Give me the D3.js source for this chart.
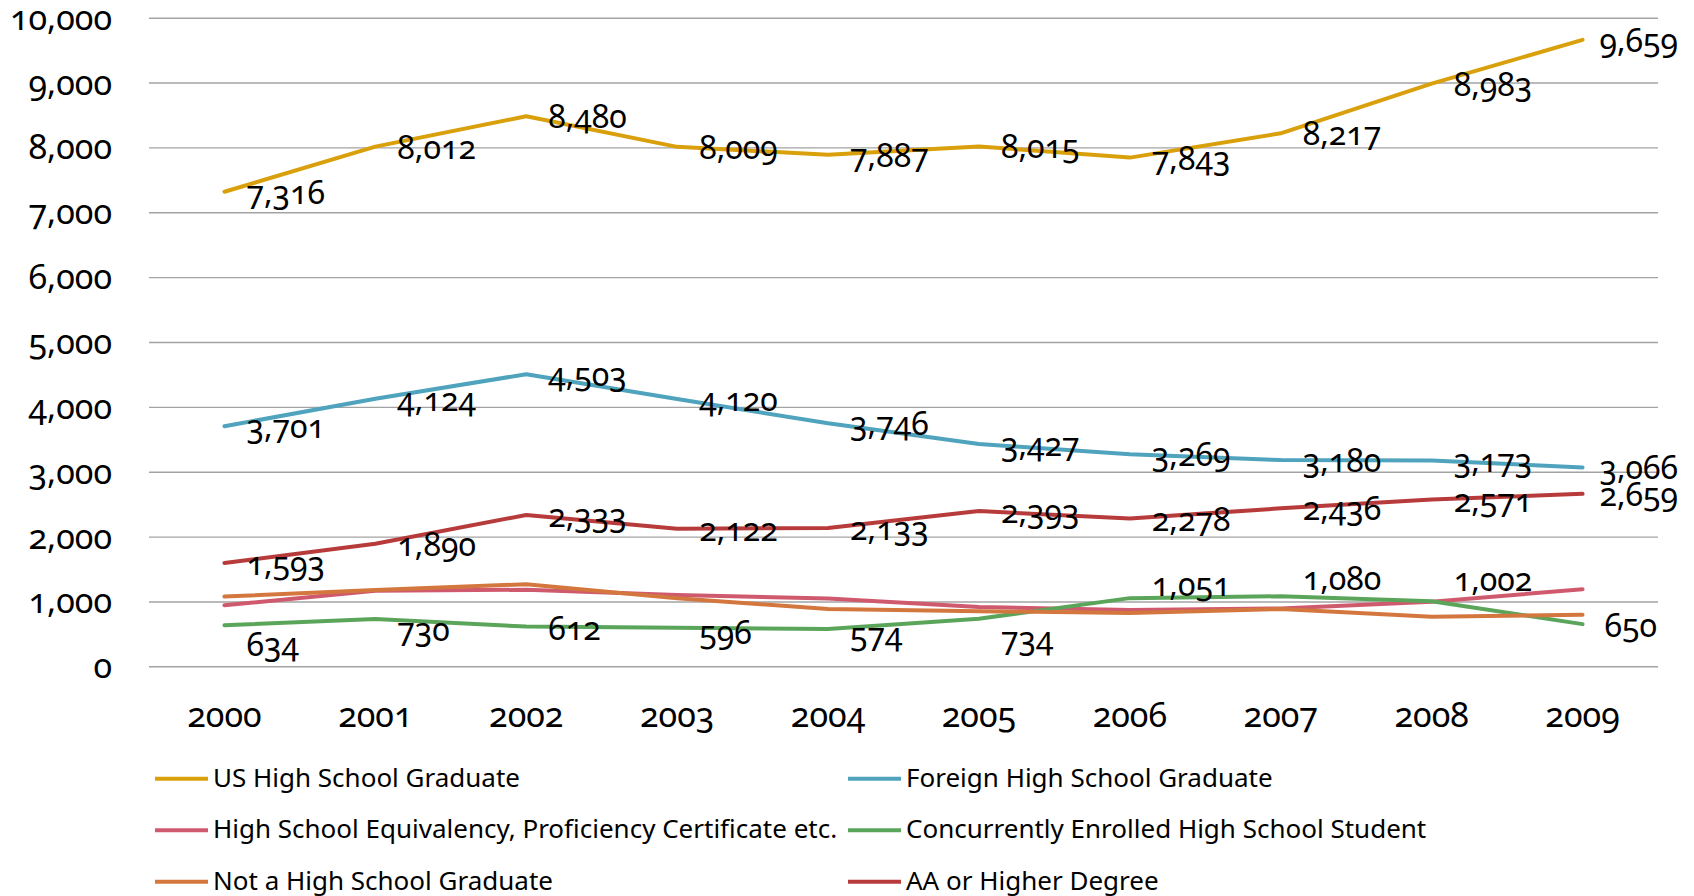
<!DOCTYPE html>
<html>
<head>
<meta charset="utf-8">
<script src="https://cdn.jsdelivr.net/npm/d3@7"></script>
<style>
  html, body { margin: 0; padding: 0; background: #fff; }
  svg { display: block; font-family: 'Noto Sans', sans-serif; }
  .num { font-variant-numeric: oldstyle-nums; font-feature-settings: "onum" 1; }
</style>
</head>
<body>
<div id="chart"></div>
<script>
// values
const years = ['2000', '2001', '2002', '2003', '2004', '2005', '2006', '2007', '2008', '2009'];

const usGrad      = [7316, 8012, 8480, 8009, 7887, 8015, 7843, 8217, 8983, 9659];
const foreignGrad = [3701, 4124, 4503, 4120, 3746, 3427, 3269, 3180, 3173, 3066];
const equivalency = [940, 1165, 1180, 1100, 1045, 915, 868, 893, 995, 1188];   // no labels in the original
const concurrent  = [634, 730, 612, 596, 574, 734, 1051, 1080, 1002, 650];
const notGrad     = [1075, 1176, 1266, 1050, 882, 850, 822, 882, 765, 795];     // no labels either
const aaHigher    = [1593, 1890, 2333, 2122, 2133, 2393, 2278, 2436, 2571, 2659];

const yTicks = [0, 1000, 2000, 3000, 4000, 5000, 6000, 7000, 8000, 9000, 10000];

// the green labels were dragged around by hand in the original (px, + is down)
const concurrentNudge = [19, 10, 1, 4, 5, 19, -14, -18, -22, 1];

// drawn in this order (later ones end up on top)
const series = [
  { name: 'US High School Graduate', values: usGrad, color: '#d9a00b', labels: true },
  { name: 'Foreign High School Graduate', values: foreignGrad, color: '#4fa3bd', labels: true },
  { name: 'High School Equivalency, Proficiency Certificate etc.', values: equivalency, color: '#cf5a6e', labels: false },
  { name: 'Concurrently Enrolled High School Student', values: concurrent, color: '#5ba55b', labels: true, nudge: concurrentNudge },
  { name: 'Not a High School Graduate', values: notGrad, color: '#d4773f', labels: false },
  { name: 'AA or Higher Degree', values: aaHigher, color: '#b83b3b', labels: true },
];

const width = 1694;
const height = 896;
const plot = { left: 149, right: 1658, top: 17.7, bottom: 666.3 };
const labelLimit = 1678;   // labels get pushed back inside this edge

const svg = d3.select('#chart').append('svg')
  .attr('width', width)
  .attr('height', height);

const x = d3.scaleBand()
  .domain(years)
  .range([plot.left, plot.right]);

const y = d3.scaleLinear()
  .domain([0, 10000])
  .range([plot.bottom, plot.top]);

const px = d => x(d) + x.bandwidth() / 2;

// gridlines + y labels
const yAxis = svg.append('g')
  .attr('transform', `translate(${plot.left},0)`)
  .call(d3.axisLeft(y)
    .tickValues(yTicks)
    .tickSize(-(plot.right - plot.left))
    .tickPadding(37)
    .tickFormat(d3.format(',')));

yAxis.select('.domain').remove();
yAxis.selectAll('.tick line')
  .attr('stroke', '#a3a3a3')
  .attr('stroke-width', 1.4);
yAxis.selectAll('.tick text')
  .attr('class', 'num')
  .attr('fill', '#000')
  .attr('font-size', 34)
  .attr('dy', 11.5)
  .attr('font-family', "'Noto Sans', sans-serif");

// x labels, no axis line (the 0 gridline does that job)
const xAxis = svg.append('g')
  .attr('transform', `translate(0,${plot.bottom})`)
  .call(d3.axisBottom(x).tickSize(0).tickPadding(0));

xAxis.select('.domain').remove();
xAxis.selectAll('.tick text')
  .attr('class', 'num')
  .attr('fill', '#000')
  .attr('font-size', 34)
  .attr('font-family', "'Noto Sans', sans-serif")
  .attr('dy', null)
  .attr('y', 60.5);

const line = d3.line()
  .x((d, i) => px(years[i]))
  .y(d => y(d));

svg.append('g')
  .selectAll('path')
  .data(series)
  .join('path')
    .attr('d', s => line(s.values))
    .attr('fill', 'none')
    .attr('stroke', s => s.color)
    .attr('stroke-width', 4)
    .attr('stroke-linejoin', 'round')
    .attr('stroke-linecap', 'round');

// data labels sit to the right of each point
const labelled = series.filter(s => s.labels);
const fmt = d3.format(',');

const labels = svg.append('g')
  .selectAll('g')
  .data(labelled)
  .join('g')
  .selectAll('text')
  .data(s => s.values.map((v, i) => ({ v, year: years[i], dy: s.nudge ? s.nudge[i] : 0 })))
  .join('text')
    .attr('class', 'num')
    .attr('x', d => px(d.year) + 22)
    .attr('y', d => y(d.v) + 12 + d.dy)
    .attr('font-size', 32)
    .attr('fill', '#000')
    .text(d => fmt(d.v));

// keep the last column of labels inside the chart area
labels.each(function () {
  const t = d3.select(this);
  const w = this.getComputedTextLength();
  const x0 = +t.attr('x');
  if (x0 + w > labelLimit) t.attr('x', labelLimit - w);
});

// legend: two columns, three rows, filled row by row
const legendCols = [155, 848];
const legendRows = [778.7, 830.2, 881.7];

const legend = svg.append('g')
  .selectAll('g')
  .data(series)
  .join('g')
    .attr('transform', (s, i) => `translate(${legendCols[i % 2]},${legendRows[Math.floor(i / 2)]})`);

legend.append('line')
  .attr('x1', 0)
  .attr('x2', 53)
  .attr('stroke', s => s.color)
  .attr('stroke-width', 4);

legend.append('text')
  .attr('x', 58)
  .attr('y', 8)
  .attr('font-size', 26)
  .attr('fill', '#000')
  .text(s => s.name);
</script>
</body>
</html>
